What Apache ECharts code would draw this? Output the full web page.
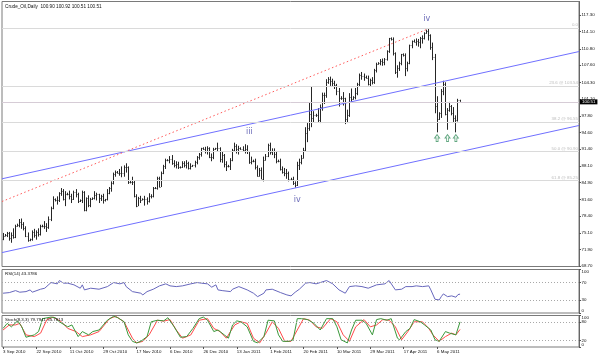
<!DOCTYPE html>
<html><head><meta charset="utf-8">
<script src="https://cdn.jsdelivr.net/npm/echarts@6/dist/echarts.min.js"></script>
<style>html,body{margin:0;padding:0;background:#fff}#c{width:600px;height:357px}</style>
</head><body><div id="c"></div>
<script>
// ---- price bars (Sun-Fri daily bars from 3 Sep 2010 to 19 May 2011) ----
const opens = [74.0,74.6,74.7,75.0,74.1,74.7,74.3,76.4,76.7,77.2,76.8,76.0,74.6,73.7,73.9,75.2,74.7,75.3,74.9,76.5,76.4,76.5,76.2,77.9,80.0,81.6,81.4,81.5,82.8,83.2,81.7,82.7,82.6,82.2,81.7,83.0,82.7,81.3,81.4,83.1,79.5,81.8,80.6,81.7,81.9,82.5,82.6,81.9,82.2,81.4,81.6,82.9,83.9,84.7,86.5,86.9,86.8,86.7,86.7,87.8,87.8,84.9,85.0,84.9,82.3,80.4,81.9,81.5,81.6,81.7,81.3,82.2,82.3,83.8,83.9,85.7,84.1,86.8,88.0,89.2,89.3,89.4,88.7,88.3,88.4,87.8,87.9,88.6,88.3,88.6,87.7,88.0,88.2,88.8,89.8,90.5,91.5,91.3,91.0,91.5,89.8,89.8,91.4,91.5,91.6,89.4,90.3,88.4,88.0,88.1,89.3,91.1,91.9,91.4,91.5,91.4,91.2,91.4,90.9,88.9,89.1,89.0,87.9,86.2,87.3,85.6,89.3,90.1,92.2,90.8,90.9,90.5,89.0,89.1,87.5,86.9,86.7,86.7,85.6,85.5,84.8,84.3,88.3,88.9,89.7,91.2,94.5,95.4,98.1,97.3,97.9,98.0,97.0,99.6,101.9,101.9,104.4,104.9,104.6,104.2,103.8,102.7,101.2,101.3,101.2,97.2,98.0,101.4,101.1,101.4,102.3,104.0,105.7,105.6,105.4,105.2,104.0,104.8,104.3,106.7,107.9,108.0,108.5,108.3,108.8,110.3,112.8,112.6,109.9,106.3,107.1,108.1,109.7,109.5,107.1,108.0,111.5,112.3,112.2,112.3,112.2,112.8,112.9,113.9,114.3,113.5,111.1,109.2,99.8,97.2,98.3,102.6,103.9,98.2,99.0,99.7,98.4,97.4,96.9,100.90];
const highs = [75.1,74.9,75.3,75.3,75.2,76.0,76.7,76.9,77.8,77.9,77.2,76.4,75.2,74.0,75.6,75.9,75.6,76.0,76.7,76.7,77.4,77.0,78.3,80.2,82.2,81.8,82.2,83.0,83.8,83.6,83.2,82.9,83.3,82.7,83.3,83.6,82.9,81.6,83.3,83.2,82.0,82.4,81.9,82.0,83.2,82.9,82.7,82.5,82.7,81.7,83.6,84.0,85.1,86.8,87.2,87.1,87.5,88.0,88.2,88.6,88.0,85.2,86.0,85.3,82.6,82.1,82.3,81.8,82.3,82.0,82.8,82.6,84.0,84.0,86.0,86.0,87.0,88.3,89.5,89.4,90.0,90.2,89.2,89.0,88.9,88.0,89.0,89.0,89.2,88.9,88.6,88.3,89.1,90.0,90.6,91.6,91.7,91.8,91.9,91.7,90.5,91.6,91.6,92.6,91.7,90.8,90.4,89.0,88.3,89.6,91.4,92.6,92.3,92.0,91.7,91.9,92.3,92.1,91.0,89.9,89.3,89.5,88.2,87.7,87.8,89.9,90.4,92.4,92.6,91.5,91.5,91.0,89.3,89.5,88.0,87.7,87.5,87.0,85.8,86.0,85.1,88.9,89.5,90.2,91.6,95.6,96.4,100.3,103.4,98.7,98.2,99.3,100.0,102.3,102.3,104.9,105.3,105.4,105.0,104.6,104.0,103.2,101.6,102.4,101.3,99.0,102.2,103.1,101.6,103.2,104.2,106.0,106.3,106.0,105.6,105.6,105.0,105.3,106.9,108.1,108.2,108.8,108.9,109.0,110.5,112.9,113.0,113.0,110.1,107.6,108.3,109.8,109.9,109.9,108.3,111.6,112.4,112.6,112.8,112.7,113.1,113.4,114.0,114.5,114.8,113.6,112.0,109.8,101.6,98.5,103.0,104.6,104.3,99.3,100.5,99.9,99.5,97.9,101.1,100.92];
const lows = [73.7,74.4,74.3,73.6,73.2,74.0,74.1,76.3,76.2,75.9,75.6,74.3,73.4,73.5,73.6,74.2,73.8,74.4,74.6,76.2,75.9,75.3,75.9,77.4,79.7,81.2,80.6,81.1,82.3,81.4,80.3,82.4,81.6,80.9,81.5,82.0,80.9,81.1,80.9,79.3,79.3,80.1,80.1,81.5,81.6,81.4,80.9,81.3,80.8,81.2,81.4,82.6,83.1,84.5,86.0,86.6,86.2,85.9,86.0,86.8,84.6,84.7,84.4,82.0,80.1,80.3,80.9,81.4,80.4,80.6,81.0,81.8,82.0,83.6,83.5,83.9,84.0,86.5,87.5,89.0,88.6,88.3,87.8,87.6,87.5,87.6,87.7,87.8,87.6,87.4,87.4,87.9,87.8,88.4,89.3,89.9,91.2,90.5,90.3,89.6,89.0,89.4,91.2,90.8,88.8,88.7,87.8,87.1,87.8,87.3,89.0,90.8,90.5,90.3,91.2,90.8,90.5,90.4,88.5,88.4,88.8,87.4,86.0,86.0,85.5,85.1,89.1,89.8,90.3,90.2,89.6,88.6,88.8,87.2,86.6,86.1,85.6,85.1,85.3,84.4,83.9,84.2,87.3,88.4,89.5,90.8,92.7,94.9,95.6,96.6,97.6,96.6,96.4,98.8,100.1,101.3,104.0,103.6,103.4,103.0,101.8,99.6,100.9,99.8,96.2,96.4,97.6,100.4,100.9,101.0,101.8,103.5,104.8,104.6,105.0,103.7,103.5,103.9,104.0,106.2,107.7,107.6,107.5,107.6,108.5,110.0,112.4,109.5,105.9,105.2,106.5,107.6,109.3,105.5,106.4,107.8,110.9,112.0,111.4,111.2,110.9,111.8,112.6,113.7,112.4,110.6,108.6,98.3,94.6,97.0,97.4,101.8,97.9,95.1,98.6,97.9,96.4,94.6,96.7,100.51];
const closes = [74.6,74.7,75.0,74.1,74.7,74.3,76.4,76.7,77.2,76.8,76.0,74.6,73.7,73.9,75.2,74.7,75.3,74.9,76.5,76.4,76.5,76.2,77.9,80.0,81.6,81.4,81.5,82.8,83.2,81.7,82.7,82.6,82.2,81.7,83.0,82.7,81.3,81.4,83.1,79.5,81.8,80.6,81.7,81.9,82.5,82.6,81.9,82.2,81.4,81.6,82.9,83.9,84.7,86.5,86.9,86.8,86.7,86.7,87.8,87.8,84.9,85.0,84.9,82.3,80.4,81.9,81.5,81.6,81.7,81.3,82.2,82.3,83.8,83.9,85.7,84.1,86.8,88.0,89.2,89.3,89.4,88.7,88.3,88.4,87.8,87.9,88.6,88.3,88.6,87.7,88.0,88.2,88.8,89.8,90.5,91.5,91.3,91.0,91.5,89.8,89.8,91.4,91.5,91.6,89.4,90.3,88.4,88.0,88.1,89.3,91.1,91.9,91.4,91.5,91.4,91.2,91.4,90.9,88.9,89.1,89.0,87.9,86.2,87.3,85.6,89.3,90.1,92.2,90.8,90.9,90.5,89.0,89.1,87.5,86.9,86.7,86.7,85.6,85.5,84.8,84.3,88.3,88.9,89.7,91.2,94.5,95.4,98.1,97.3,97.9,98.0,97.0,99.6,101.9,101.9,104.4,104.9,104.6,104.2,103.8,102.7,101.2,101.3,101.2,97.2,98.0,101.4,101.1,101.4,102.3,104.0,105.7,105.6,105.4,105.2,104.0,104.8,104.3,106.7,107.9,108.0,108.5,108.3,108.8,110.3,112.8,112.6,109.9,106.3,107.1,108.1,109.7,109.5,107.1,108.0,111.5,112.3,112.2,112.3,112.2,112.8,112.9,113.9,114.3,113.5,111.1,109.2,99.8,97.2,98.3,102.6,103.9,98.2,99.0,99.7,98.4,97.4,96.9,100.9,100.51];

// ---- x axis date labels (bar index -> label) ----
const dateIdx = [0,16,32,48,64,80,96,112,128,144,160,176,192,208];
const dateLabels = ['3 Sep 2010','22 Sep 2010','11 Oct 2010','29 Oct 2010','17 Nov 2010','6 Dec 2010','26 Dec 2010','13 Jan 2011','1 Feb 2011','20 Feb 2011','10 Mar 2011','29 Mar 2011','17 Apr 2011','6 May 2011'];

// ---- price axis tick labels ----
const yTickLabels = ['68.70','71.90','75.10','78.40','81.60','84.90','88.10','91.40','94.60','97.80','101.10','104.30','107.60','110.80','114.10','117.30'];

// ---- drawn objects (bar index, price) ----
const upperChannel = [[-0.5, 85.6], [276, 110.26]];
const lowerChannel = [[-0.5, 71.3], [276, 95.93]];
const redTrend = [[-0.5, 81.2], [204, 114.7]];
const fibLevels = [114.83, 103.54, 96.55, 90.90, 85.25];
const fibNames = ['0.0', '23.6 @ 103.54', '38.2 @ 96.55', '50.0 @ 90.90', '61.8 @ 85.25'];
const bidPrice = 100.51;
const waveIdx = [118, 141, 203];
const wavePrice = [94.6, 81.6, 116.6];
const waveText = ['iii', 'iv', 'iv'];
const arrowIdx = [208, 213, 217];
const arrowPrice = [93.5, 93.5, 93.5];

// ---- RSI(14) ----
const rsiIdx = [0,3,6,8,11,13,14,18,20,23,26,27,29,31,34,37,38,39,42,46,50,53,56,58,59,62,66,67,69,72,75,78,80,83,86,90,93,95,98,100,102,103,105,109,110,113,117,120,122,125,126,129,133,136,138,140,142,145,147,150,152,155,158,161,164,166,169,172,175,179,183,185,188,191,193,196,198,201,204,205,207,209,210,211,213,215,217,218,219];
const rsiVal = [45.5,46.9,51.5,47.8,49.2,53.1,47.8,54.7,57,70,67,74.6,68.6,68.6,64.7,57,64.7,53.1,57,54.7,60.7,70,67,70,60.7,49.2,45.5,41.6,49.2,54.7,62.4,67,62.4,60.7,62.4,67,70,68.6,67,59.4,64.7,53.1,51.5,49.2,54.7,60.7,53.1,45.5,37.6,45.5,53.1,54.7,46.9,41.6,39.3,47.8,54.7,68.6,70,67,70,74.6,67,53.1,45.5,60.7,62.4,60.7,57,64.7,67,74.6,53.1,54.7,60.7,60.7,62.4,60.7,62.4,53.1,31.6,30,37.6,43.9,37.6,39.3,36.3,42.3,43.4];

// ---- Stochastic(8,3,3) ----
const kIdx = [0,2,4,7,9,11,15,17,19,23,25,27,31,33,36,38,41,43,46,50,53,55,58,60,62,64,66,69,71,74,77,79,82,85,88,91,94,96,98,101,103,106,108,110,112,114,117,120,122,125,127,130,132,134,137,139,141,143,146,149,152,155,158,160,162,165,167,169,172,174,177,179,181,184,186,189,190,193,195,197,200,202,205,207,209,212,214,217,219];
const kVal = [59,75,64,83,64,31,38.5,49,90,95,93,80,64,70,33,49,38.5,49,54,85,97.5,93,80,38.5,18,13,18,33,80,85,83,93,64,31,33,59,90,95,85,49,54,38.5,28,70,83,80,64,18,13,33,85,83,38.5,18,18,23,90,90,87,75,54,90,90,64,23,13,54,85,85,75,38.5,87,90,85,90,28,23,49,59,87,80,70,54,23,18,49,44,38.5,79.8];
const dIdx = [0,3,6,8,11,15,18,21,24,28,31,35,38,42,46,51,54,58,62,64,67,70,74,77,80,83,86,90,94,98,101,104,107,111,114,117,120,123,126,129,132,135,138,141,144,147,150,153,157,160,163,166,169,173,176,179,182,185,188,191,194,197,201,204,206,209,212,215,217,219];
const dVal = [54,70,70,75,38.5,33,44,87,95,80,59,49,33,38.5,49,90,97.5,80,28,13,18,38.5,85,82,87,54,28,38.5,85,90,59,49,28,70,80,75,28,13,44,80,59,18,18,54,90,85,64,59,90,80,38.5,18,64,87,64,70,87,85,64,23,49,80,80,59,38.5,18,33,44,38.5,55.8];

// ---------------------------------------------------------------
const FONT = '"Liberation Sans", Arial, sans-serif';
const SMALL = 4.4;
const xMin = -0.5, xMax = 276;
const bars = opens.map((o, i) => [i, o, highs[i], lows[i], closes[i]]);
const pairs = (a, b) => a.map((x, i) => [x, b[i]]);
const yTickVals = yTickLabels.map(Number);

const chart = echarts.init(document.getElementById('c'), null, {renderer: 'canvas'});
const txt = {fontSize: SMALL, fontWeight: 'normal', color: '#111', fontFamily: FONT};
const xHidden = gi => ({gridIndex: gi, type: 'value', min: xMin, max: xMax, show: false});
const yBase = {
  type: 'value', position: 'right',
  axisLine: {show: true, onZero: false, lineStyle: {color: '#666', width: 1}},
  splitLine: {show: false},
};

chart.setOption({
  animation: false,
  backgroundColor: '#fff',
  title: [
    {text: 'Crude_Oil,Daily  100.90 100.92 100.51 100.51', left: 5, top: 4, padding: 0, textStyle: Object.assign({}, txt, {fontSize: 4.7})},
    {text: 'RSI(14) 43.3786', left: 5, top: 272, padding: 0, textStyle: txt},
    {text: 'Stoch(8,3,3) 79.7941 55.7813', left: 5, top: 318, padding: 0, textStyle: txt}
  ],
  grid: [
    {left: 2, right: 21, top: 1.5, height: 265, show: true, borderColor: '#7a7a7a', borderWidth: 1},
    {left: 2, right: 21, top: 269.5, height: 43.5, show: true, borderColor: '#7a7a7a', borderWidth: 1},
    {left: 2, right: 21, top: 315.5, height: 31.5, show: true, borderColor: '#7a7a7a', borderWidth: 1}
  ],
  xAxis: [
    xHidden(0), xHidden(1),
    {
      gridIndex: 2, type: 'value', min: xMin, max: xMax,
      axisLine: {show: false, onZero: false},
      splitLine: {show: false},
      axisTick: {show: true, customValues: dateIdx, length: 2, lineStyle: {color: '#555'}},
      axisLabel: {
        customValues: dateIdx, formatter: v => dateLabels[dateIdx.indexOf(v)],
        align: 'left', fontSize: SMALL, margin: 2.5, color: '#111', fontFamily: FONT
      }
    }
  ],
  yAxis: [
    Object.assign({}, yBase, {
      gridIndex: 0, min: 68.6, max: 119.96,
      axisTick: {show: true, length: 2, customValues: yTickVals, lineStyle: {color: '#555'}},
      axisLabel: {customValues: yTickVals, formatter: v => yTickLabels[yTickVals.indexOf(v)], fontSize: SMALL, margin: 2.5, color: '#111', fontFamily: FONT}
    }),
    Object.assign({}, yBase, {
      gridIndex: 1, min: 0, max: 100,
      axisTick: {show: true, length: 2, customValues: [0, 30, 70, 100], lineStyle: {color: '#555'}},
      axisLabel: {customValues: [0, 30, 70, 100], fontSize: SMALL, margin: 2.5, color: '#111', fontFamily: FONT,
        verticalAlignMinLabel: 'bottom', verticalAlignMaxLabel: 'top'}
    }),
    Object.assign({}, yBase, {
      gridIndex: 2, min: 0, max: 100,
      axisTick: {show: true, length: 2, customValues: [0, 20, 80, 100], lineStyle: {color: '#555'}},
      axisLabel: {customValues: [0, 20, 80, 100], fontSize: SMALL, margin: 2.5, color: '#111', fontFamily: FONT,
        verticalAlignMinLabel: 'bottom', verticalAlignMaxLabel: 'top'}
    })
  ],
  series: [
    { // fibonacci levels + bid line
      type: 'line', xAxisIndex: 0, yAxisIndex: 0, data: [], silent: true,
      markLine: {
        silent: true, symbol: ['none', 'none'], animation: false,
        lineStyle: {color: '#dadada', type: 'solid', width: 1},
        label: {position: 'insideEndTop', fontSize: SMALL, color: '#bdbdbd', distance: 1, fontFamily: FONT},
        data: fibLevels.map((v, i) => ({yAxis: v, label: {formatter: fibNames[i]}}))
          .concat([{yAxis: bidPrice, lineStyle: {color: '#d6ccd6'},
            label: {position: 'end', formatter: bidPrice.toFixed(2), backgroundColor: '#000', color: '#fff', padding: [1, 2, 0, 2], distance: 1, fontSize: SMALL}}])
      }
    },
    {type: 'line', xAxisIndex: 0, yAxisIndex: 0, data: upperChannel, showSymbol: false, silent: true,
      lineStyle: {color: '#7070ff', width: 1}},
    {type: 'line', xAxisIndex: 0, yAxisIndex: 0, data: lowerChannel, showSymbol: false, silent: true,
      lineStyle: {color: '#7070ff', width: 1}},
    {type: 'line', xAxisIndex: 0, yAxisIndex: 0, data: redTrend, showSymbol: false, silent: true,
      lineStyle: {color: '#ff5a5a', width: 1, type: [1.5, 2.5]}},
    {
      type: 'custom', xAxisIndex: 0, yAxisIndex: 0, data: bars, clip: true, silent: true,
      encode: {x: 0, y: [1, 2, 3, 4]},
      renderItem: (params, api) => {
        const i = api.value(0);
        const o = api.coord([i, api.value(1)]);
        const h = api.coord([i, api.value(2)]);
        const l = api.coord([i, api.value(3)]);
        const c = api.coord([i, api.value(4)]);
        const x = Math.round(h[0] - 0.5) + 0.5;
        const st = {stroke: '#262626', lineWidth: 1};
        const tk = {stroke: '#777', lineWidth: 1};
        return {type: 'group', children: [
          {type: 'line', shape: {x1: x, y1: h[1], x2: x, y2: l[1]}, style: st},
          {type: 'line', shape: {x1: x - 1, y1: Math.round(o[1]) + 0.5, x2: x - 0.5, y2: Math.round(o[1]) + 0.5}, style: tk},
          {type: 'line', shape: {x1: x + 0.5, y1: Math.round(c[1]) + 0.5, x2: x + 1, y2: Math.round(c[1]) + 0.5}, style: tk}
        ]};
      }
    },
    {
      type: 'scatter', xAxisIndex: 0, yAxisIndex: 0, silent: true, symbolSize: 1,
      itemStyle: {color: 'rgba(0,0,0,0)'},
      data: waveIdx.map((x, i) => ({value: [x, wavePrice[i]], name: waveText[i]})),
      label: {show: true, position: 'inside', formatter: '{b}', fontSize: 8, color: '#4646a6', fontFamily: '"DejaVu Sans", sans-serif'}
    },
    {
      type: 'scatter', xAxisIndex: 0, yAxisIndex: 0, silent: true,
      symbol: 'path://M5 0 L10 5 L7 5 L7 10 L3 10 L3 5 L0 5 Z', symbolSize: [5, 7],
      itemStyle: {color: '#eef8f1', borderColor: '#3d9163', borderWidth: 0.9},
      data: pairs(arrowIdx, arrowPrice)
    },
    {
      type: 'line', xAxisIndex: 1, yAxisIndex: 1, data: pairs(rsiIdx, rsiVal), showSymbol: false, silent: true,
      lineStyle: {color: '#6767bd', width: 1},
      markLine: {silent: true, symbol: ['none', 'none'], label: {show: false},
        lineStyle: {color: '#a8a8a8', type: [1, 2], width: 1}, data: [{yAxis: 30}, {yAxis: 70}]}
    },
    {
      type: 'line', xAxisIndex: 2, yAxisIndex: 2, data: pairs(dIdx, dVal), showSymbol: false, silent: true,
      lineStyle: {color: '#ff4a4a', width: 1},
      markLine: {silent: true, symbol: ['none', 'none'], label: {show: false},
        lineStyle: {color: '#a8a8a8', type: [1, 2], width: 1}, data: [{yAxis: 20}, {yAxis: 80}]}
    },
    {
      type: 'line', xAxisIndex: 2, yAxisIndex: 2, data: pairs(kIdx, kVal), showSymbol: false, silent: true,
      lineStyle: {color: '#3a983a', width: 1}
    }
  ]
});
</script>
</body></html>
